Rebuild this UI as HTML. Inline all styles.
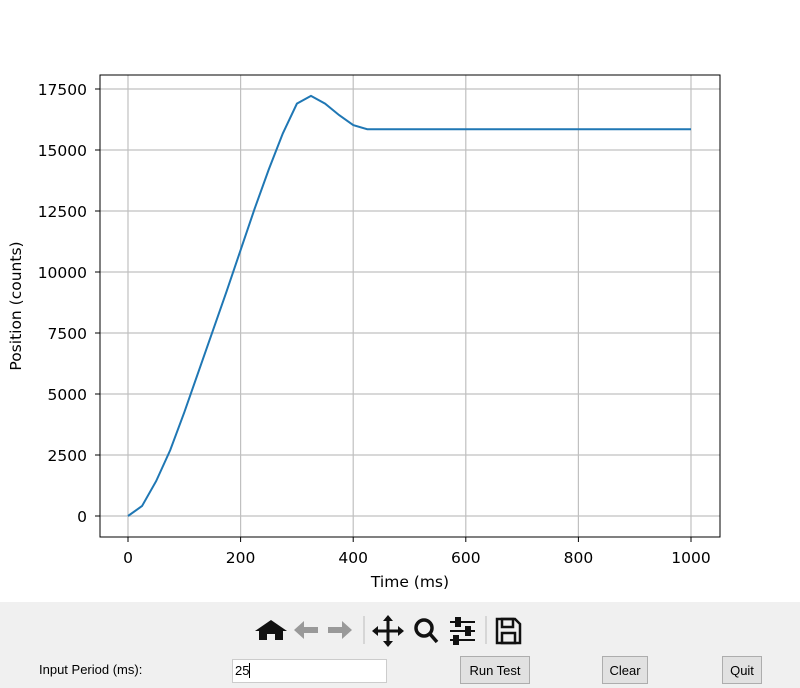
<!DOCTYPE html>
<html><head><meta charset="utf-8"><style>
body{margin:0;width:800px;height:688px;overflow:hidden;background:#fff;font-family:"DejaVu Sans","Liberation Sans",sans-serif;}
#bar{position:absolute;left:0;top:602px;width:800px;height:86px;background:#f0f0f0;}
.btn{position:absolute;top:656px;height:28px;background:#e1e1e1;border:1px solid #adadad;font:13px "Liberation Sans",sans-serif;display:flex;align-items:center;justify-content:center;box-sizing:border-box;}
</style></head><body>
<svg id="chart" width="800" height="602" style="position:absolute;left:0;top:0"></svg>
<div id="bar"></div>
<svg width="800" height="40" style="position:absolute;left:0;top:612px">
<g><path d="M259 28 L259 19 L255 19 L271 8 L287 19 L283 19 L283 28 L275 28 L275 22 L267 22 L267 28Z" fill="#111"/></g>
<g><path d="M294 18 L304 9 L304 15 L318 15 L318 21 L304 21 L304 27Z" fill="#999"/></g>
<g><path d="M352 18 L342 9 L342 15 L328 15 L328 21 L342 21 L342 27Z" fill="#999"/></g>
<line x1="364" y1="4" x2="364" y2="32" stroke="#bbb"/>
<g stroke="#111" stroke-width="3" fill="#111"><line x1="388" y1="6" x2="388" y2="32"/><line x1="375" y1="19" x2="401" y2="19"/><path d="M383 9 L388 3 L393 9Z M383 29 L388 35 L393 29Z M378 14 L372 19 L378 24Z M398 14 L404 19 L398 24Z" stroke="none"/></g>
<g stroke="#111" stroke-width="3.5" fill="none"><circle cx="424" cy="16" r="8"/><line x1="430" y1="22" x2="437" y2="30"/></g>
<g stroke="#111" stroke-width="2"><line x1="450" y1="10" x2="475" y2="10"/><line x1="450" y1="19" x2="475" y2="19"/><line x1="450" y1="28" x2="475" y2="28"/><rect x="456" y="6" width="4" height="8" fill="#111"/><rect x="466" y="15" width="4" height="8" fill="#111"/><rect x="454" y="24" width="4" height="8" fill="#111"/></g>
<line x1="486" y1="4" x2="486" y2="32" stroke="#bbb"/>
<g stroke="#111" stroke-width="2.5" fill="none"><path d="M497 7 L515 7 L520 12 L520 31 L497 31Z"/><rect x="502" y="7" width="11" height="8"/><rect x="502" y="21" width="13" height="10"/></g>
</svg>
<div style="position:absolute;left:39px;top:662px;font:13px 'Liberation Sans',sans-serif;">Input Period (ms):</div>
<div style="position:absolute;left:232px;top:659px;width:155px;height:24px;background:#fff;border:1px solid #ccc;box-sizing:border-box;font:13px 'Liberation Sans',sans-serif;padding:3px 2px;">25<span style="border-left:1px solid #000;"></span></div>
<div class="btn" style="left:460px;width:70px;">Run Test</div>
<div class="btn" style="left:602px;width:46px;">Clear</div>
<div class="btn" style="left:722px;width:40px;">Quit</div>
<script>
const times=[0,25,50,75,100,125,150,175,200,225,250,275,300,325,350,375,400,425,1000];
const positions=[0,410,1430,2700,4250,5900,7550,9200,10900,12600,14200,15680,16900,17220,16900,16430,16020,15850,15850];
const xTicks=[0,200,400,600,800,1000];
const yTicks=[0,2500,5000,7500,10000,12500,15000,17500];
const L=100,R=720,T=75,B=537;
const xs=v=>128+v*(691-128)/1000;
const ys=v=>516-v*(516-89)/17500;
const svg=document.getElementById('chart');
const NS='http://www.w3.org/2000/svg';
function mk(tag,at){const e=document.createElementNS(NS,tag);for(const k in at)e.setAttribute(k,at[k]);svg.appendChild(e);return e;}
xTicks.forEach(t=>{const x=xs(t);
const g=mk('line',{x1:x,x2:x,y1:T,y2:B,stroke:'#c0c0c0','stroke-width':1.2});

mk('line',{x1:x,x2:x,y1:B,y2:B+5,stroke:'#000','stroke-width':1});
const tx=mk('text',{x:x,y:563,'text-anchor':'middle','font-size':15.5});tx.textContent=t;
});
yTicks.forEach(t=>{const y=ys(t);
const g=mk('line',{x1:L,x2:R,y1:y,y2:y,stroke:'#c0c0c0','stroke-width':1.2});

mk('line',{x1:L-5,x2:L,y1:y,y2:y,stroke:'#000','stroke-width':1});
const tx=mk('text',{x:87,y:y+6,'text-anchor':'end','font-size':15.5});tx.textContent=t;
});
const p=mk('polyline',{points:times.map((t,i)=>xs(t)+','+ys(positions[i])).join(' '),fill:'none',stroke:'#1f77b4','stroke-width':2});

const f=mk('rect',{x:L,y:T,width:R-L,height:B-T,fill:'none',stroke:'#000','stroke-width':1});

const xl=mk('text',{x:(L+R)/2,y:587,'text-anchor':'middle','font-size':15.5});xl.textContent='Time (ms)';

const yl=mk('text',{x:21,y:(T+B)/2,'text-anchor':'middle','font-size':15.5,transform:'rotate(-90 21 '+((T+B)/2)+')'});yl.textContent='Position (counts)';

</script>
</body></html>
